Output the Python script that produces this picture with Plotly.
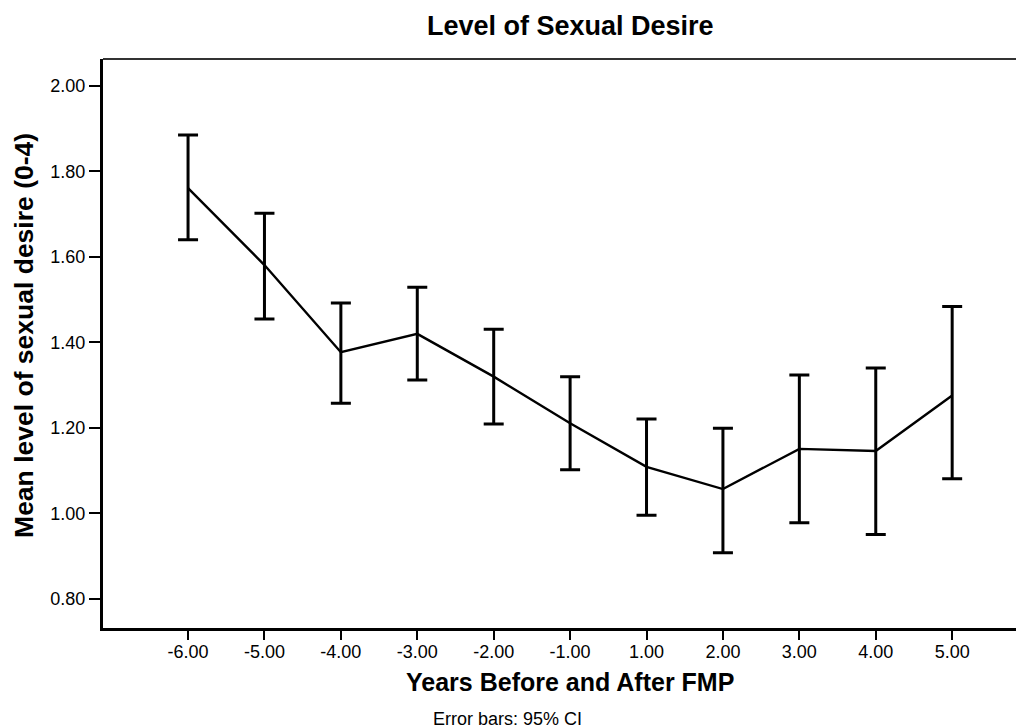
import plotly.graph_objects as go

categories = ["-6.00", "-5.00", "-4.00", "-3.00", "-2.00", "-1.00",
              "1.00", "2.00", "3.00", "4.00", "5.00"]
means = [1.761, 1.581, 1.377, 1.420, 1.320, 1.211, 1.109, 1.057, 1.151, 1.146, 1.276]
ci_upper = [1.885, 1.702, 1.492, 1.529, 1.431, 1.320, 1.221, 1.199, 1.324, 1.340, 1.484]
ci_lower = [1.640, 1.455, 1.258, 1.312, 1.209, 1.102, 0.996, 0.908, 0.978, 0.951, 1.081]
y_ticks = [0.80, 1.00, 1.20, 1.40, 1.60, 1.80, 2.00]

err_plus = [u - m for u, m in zip(ci_upper, means)]
err_minus = [m - l for m, l in zip(means, ci_lower)]

FONT = "Liberation Sans, Arial, sans-serif"

fig = go.Figure()
fig.add_trace(go.Scatter(
    x=categories, y=means, mode="lines",
    line=dict(color="black", width=2.4),
    error_y=dict(type="data", symmetric=False, array=err_plus, arrayminus=err_minus,
                 color="black", thickness=3, width=10),
    showlegend=False, hoverinfo="skip",
))

fig.update_layout(
    width=1016, height=720,
    margin=dict(l=95, r=0, t=51, b=100),
    paper_bgcolor="white", plot_bgcolor="white",
    font=dict(family=FONT, color="black"),
    xaxis=dict(
        type="category", range=[-1.113, 10.94],
        showgrid=False, zeroline=False,
        showline=True, linecolor="black", linewidth=3,
        ticks="outside", ticklen=9, tickwidth=2, tickcolor="black",
        ticklabelstandoff=-4,
        tickfont=dict(size=18, family=FONT, color="black"),
    ),
    yaxis=dict(
        range=[0.732, 2.063],
        tickvals=y_ticks, ticktext=[f"{v:.2f}" for v in y_ticks],
        showgrid=False, zeroline=False,
        showline=True, linecolor="black", linewidth=3,
        ticks="outside", ticklen=11, tickwidth=2, tickcolor="black",
        tickfont=dict(size=18, family=FONT, color="black"),
    ),
    shapes=[dict(type="line", xref="paper", yref="paper", x0=0, x1=1, y0=1, y1=1,
                 line=dict(color="#333333", width=2))],
    annotations=[
        dict(text="<b>Level of Sexual Desire</b>", xref="paper", yref="paper",
             x=0.508, y=1.058, xanchor="center", yanchor="middle", showarrow=False,
             font=dict(size=27, family=FONT, color="black")),
        dict(text="<b>Years Before and After FMP</b>", xref="paper", yref="paper",
             x=0.507, y=-0.095, xanchor="center", yanchor="middle", showarrow=False,
             font=dict(size=25, family=FONT, color="black")),
        dict(text="Error bars: 95% CI", xref="paper", yref="paper",
             x=0.4387, y=-0.16, xanchor="center", yanchor="middle", showarrow=False,
             font=dict(size=18, family=FONT, color="black")),
        dict(text="<b>Mean level of sexual desire (0-4)</b>", xref="paper", yref="paper",
             x=-0.0858, y=0.515, xanchor="center", yanchor="middle", showarrow=False,
             textangle=-90, font=dict(size=26.5, family=FONT, color="black")),
    ],
)

fig.write_html("out.html")
